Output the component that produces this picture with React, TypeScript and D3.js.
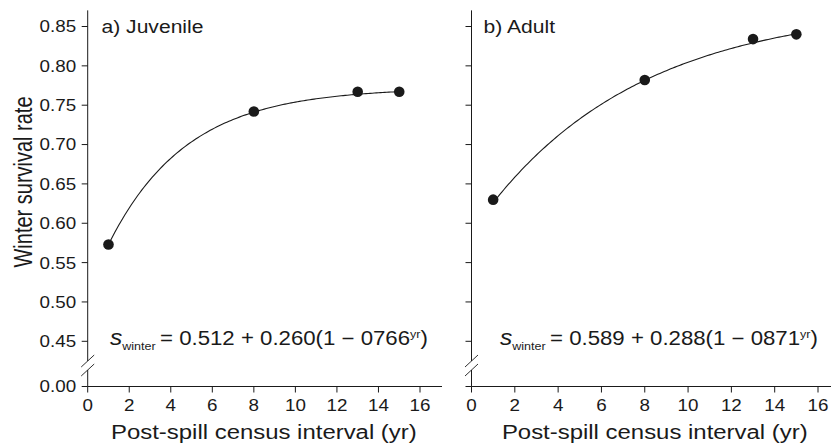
import React from 'react';
import * as d3 from 'd3';

// ---- data ----
const xTicks = [0, 2, 4, 6, 8, 10, 12, 14, 16];
const yTicks = [0.45, 0.5, 0.55, 0.6, 0.65, 0.7, 0.75, 0.8, 0.85];
const yZeroTick = 0.0;
const panelLabels = ['a) Juvenile', 'b) Adult'];
const intervals = [1, 8, 13, 15];
const juvenileSurvival = [0.573, 0.742, 0.767, 0.767];
const adultSurvival = [0.63, 0.782, 0.834, 0.84];
// fitted curve parameters, as printed on the chart
const fitIntercept = [0.512, 0.589];
const fitAmplitude = [0.26, 0.288];
const fitBase = [0.766, 0.871];
const formulaBody = ['= 0.512 + 0.260(1 − 0766', '= 0.589 + 0.288(1 − 0871'];
const xTitle = 'Post-spill census interval (yr)';
const yTitle = 'Winter survival rate';

const W = 831;
const H = 444;
const FONT = '"Liberation Sans", Arial, Helvetica, sans-serif';
const SX = 1.14;
const INK = '#1a1a1a';

const yScale = d3.scaleLinear().domain([0.45, 0.85]).range([341.3, 26.5]);
const Y_ZERO = 386.5;
const AXIS_TOP = yScale(0.8705);

const panels = [
  { x0: 87.7, x16: 420, xEnd: 442, labelX: 101.5, formulaX: 110, eqX: 160, data: juvenileSurvival },
  { x0: 471.5, x16: 818, xEnd: 831, labelX: 483.5, formulaX: 500, eqX: 550, data: adultSurvival },
];

function STxt({ x, y, anchor = 'start', size, children }: any) {
  return (
    <text
      transform={`translate(${x},${y}) scale(${SX},1)`}
      textAnchor={anchor}
      fontSize={size}
      fontFamily={FONT}
      fill={INK}
    >
      {children}
    </text>
  );
}

function Panel({ idx }: { idx: number }) {
  const p = panels[idx];
  const xScale = d3.scaleLinear().domain([0, 16]).range([p.x0, p.x16]);
  const ax = p.x0;
  const fitX = d3.range(intervals[0], intervals[intervals.length - 1] + 0.001, 0.1);
  const fitY = fitX.map((t) => fitIntercept[idx] + fitAmplitude[idx] * (1 - Math.pow(fitBase[idx], t)));
  const line = d3
    .line<number>()
    .x((_, i) => xScale(fitX[i]))
    .y((d) => yScale(d))
    .curve(d3.curveLinear);
  const breakTop = 361;
  const breakBot = 370;
  return (
    <g>
      {/* y axis with break */}
      <line x1={ax} x2={ax} y1={AXIS_TOP} y2={breakTop} stroke={INK} strokeWidth={1} />
      <line x1={ax} x2={ax} y1={breakBot} y2={Y_ZERO} stroke={INK} strokeWidth={1} />
      <line x1={ax - 6.5} y1={breakTop + 6} x2={ax + 6.5} y2={breakTop - 6} stroke={INK} strokeWidth={0.9} />
      <line x1={ax - 6.5} y1={breakBot + 6} x2={ax + 6.5} y2={breakBot - 6} stroke={INK} strokeWidth={0.9} />
      {yTicks.map((t) => (
        <g key={t}>
          <line x1={ax - 6} x2={ax} y1={yScale(t)} y2={yScale(t)} stroke={INK} strokeWidth={1} />
          {idx === 0 && (
            <STxt x={ax - 11.5} y={yScale(t) + 5.9} anchor="end" size={16.5}>
              {d3.format('.2f')(t)}
            </STxt>
          )}
        </g>
      ))}
      <line x1={ax - 6} x2={ax} y1={Y_ZERO} y2={Y_ZERO} stroke={INK} strokeWidth={1} />
      {idx === 0 && (
        <STxt x={ax - 11.5} y={Y_ZERO + 5.9} anchor="end" size={16.5}>
          {d3.format('.2f')(yZeroTick)}
        </STxt>
      )}
      {/* x axis */}
      <line x1={ax} x2={p.xEnd} y1={Y_ZERO} y2={Y_ZERO} stroke={INK} strokeWidth={1} />
      {xTicks.map((t) => (
        <g key={t}>
          <line x1={xScale(t)} x2={xScale(t)} y1={Y_ZERO} y2={Y_ZERO + 6} stroke={INK} strokeWidth={1} />
          <STxt x={xScale(t)} y={410.5} anchor="middle" size={16.5}>
            {t}
          </STxt>
        </g>
      ))}
      <STxt x={(xScale(0) + xScale(16)) / 2 + 10} y={439} anchor="middle" size={21}>
        {xTitle}
      </STxt>
      {/* panel label */}
      <STxt x={p.labelX} y={33.3} size={18.5}>
        {panelLabels[idx]}
      </STxt>
      {/* fitted curve */}
      <path d={line(fitY) || ''} fill="none" stroke={INK} strokeWidth={1.1} />
      {/* points */}
      {intervals.map((t, i) => (
        <circle key={t} cx={xScale(t)} cy={yScale(p.data[i])} r={5.3} fill={INK} />
      ))}
      {/* formula */}
      <text
        transform={`translate(${p.formulaX},345) scale(${SX},1)`}
        fontFamily={FONT}
        fill={INK}
      >
        <tspan fontStyle="italic" fontSize={21.5}>s</tspan>
        <tspan fontSize={11} dy={5}>winter</tspan>
      </text>
      <text transform={`translate(${p.eqX},345) scale(${SX},1)`} fontFamily={FONT} fill={INK}>
        <tspan fontSize={19.5}>{formulaBody[idx]}</tspan>
        <tspan fontSize={11} dy={-7.5}>yr</tspan>
        <tspan fontSize={19.5} dy={7.5}>)</tspan>
      </text>
    </g>
  );
}

export default function App() {
  return (
    <svg width={W} height={H} style={{ display: 'block', position: 'absolute', left: 0, top: 0, background: '#fff' }}>
      <rect width={W} height={H} fill="#fff" />
      <text
        transform={`translate(31.5,182) scale(1.3,1) rotate(-90)`}
        textAnchor="middle"
        fontSize={20}
        fontFamily={FONT}
        fill={INK}
      >
        {yTitle}
      </text>
      <Panel idx={0} />
      <Panel idx={1} />
    </svg>
  );
}
